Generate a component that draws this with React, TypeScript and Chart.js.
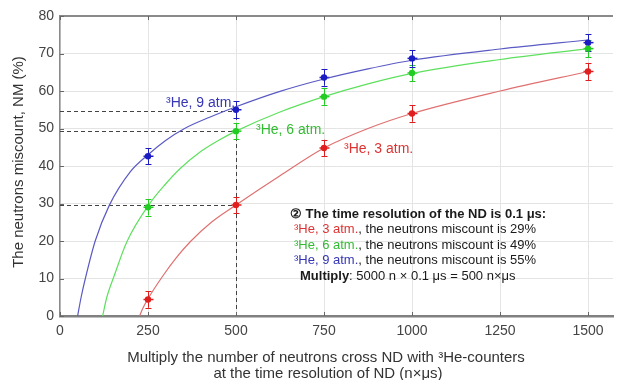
import React, { useEffect, useRef } from 'react';
import { Chart, registerables } from 'chart.js';

Chart.register(...registerables);

// ---- data ----
const xTicks = [0, 250, 500, 750, 1000, 1250, 1500];
const yTicks = [0, 10, 20, 30, 40, 50, 60, 70, 80];

const measX = [250, 500, 750, 1000, 1500];
const he3Meas = [4.4, 29.6, 44.8, 54.0, 65.2];
const he6Meas = [29.0, 49.3, 58.5, 64.8, 71.3];
const he9Meas = [42.6, 55.0, 63.6, 68.7, 72.9];
const he3Err = [2.2, 2.2, 2.2, 2.2, 2.3];
const he6Err = [2.2, 2.2, 2.2, 2.2, 2.3];
const he9Err = [2.1, 2.2, 2.2, 2.2, 2.3];

const he9FitX = [50, 60, 72, 100, 140, 200, 250, 300, 354, 425, 500, 625, 750, 875, 1000, 1250, 1500];
const he9FitY = [0, 5, 10, 20, 29.5, 38.5, 43.0, 46.8, 50.0, 53.0, 55.8, 59.9, 63.2, 65.9, 68.2, 71.2, 73.6];
const he6FitX = [121, 133, 155, 190, 255, 300, 340, 396, 450, 500, 625, 750, 875, 1000, 1250, 1500];
const he6FitY = [0, 5, 11, 19.8, 30, 35.2, 39.2, 43.6, 46.8, 49.3, 54.4, 58.5, 61.9, 64.7, 68.4, 71.3];
const he3FitX = [226, 235, 250, 290, 330, 370, 430, 500, 625, 750, 875, 1000, 1250, 1500];
const he3FitY = [0, 2, 4.6, 10.4, 15.5, 19.8, 25.0, 29.6, 37.4, 44.8, 50.0, 54.0, 60.0, 65.2];

const refLevels = [29.5, 49.3, 54.8];
const refX = 500;

const seriesLabels = ['³He, 3 atm.', '³He, 6 atm.', '³He, 9 atm.'];
const yTitle = 'The neutrons miscount, NM (%)';
const xTitle = ['Multiply the number of neutrons cross ND with ³He-counters', 'at the time resolution of ND (n×μs)'];
const noteTitle = '② The time resolution of the ND is 0.1 μs:';
const noteLines = [
  ['³He, 3 atm.', ', the neutrons miscount is 29%'],
  ['³He, 6 atm.', ', the neutrons miscount is 49%'],
  ['³He, 9 atm.', ', the neutrons miscount is 55%'],
];
const noteMultiply = ['Multiply', ': 5000 n × 0.1 μs = 500 n×μs'];

// ---- styles ----
const FONT = 'Liberation Sans, Arial, sans-serif';
const pointColors = ['#e01e1e', '#22cc22', '#1c1cc4'];
const lineColors = ['#e07070', '#5ee05e', '#5a5ac4'];
const textColors = ['#dd3333', '#33bb33', '#3535b5'];

const zip = (xs: number[], ys: number[]) => xs.map((x, i) => ({ x, y: ys[i] }));

const overlayPlugin = {
  id: 'overlay',
  beforeDatasetsDraw(chart: any) {
    const { ctx, chartArea, scales } = chart;
    const xs = scales.x, ys = scales.y;
    ctx.save();
    ctx.strokeStyle = '#444';
    ctx.lineWidth = 1;
    ctx.setLineDash([4, 3]);
    refLevels.forEach((lv) => {
      const py = Math.round(ys.getPixelForValue(lv)) + 0.5;
      ctx.beginPath();
      ctx.moveTo(chartArea.left, py);
      ctx.lineTo(xs.getPixelForValue(refX), py);
      ctx.stroke();
    });
    const px = Math.round(xs.getPixelForValue(refX)) + 0.5;
    ctx.beginPath();
    ctx.moveTo(px, ys.getPixelForValue(0));
    ctx.lineTo(px, ys.getPixelForValue(Math.max(...refLevels)));
    ctx.stroke();
    ctx.setLineDash([]);
    const groups = [
      [he3Meas, he3Err],
      [he6Meas, he6Err],
      [he9Meas, he9Err],
    ];
    groups.forEach(([vals, errs], gi) => {
      ctx.strokeStyle = pointColors[gi];
      ctx.lineWidth = 1;
      measX.forEach((mx, i) => {
        const cx = Math.round(xs.getPixelForValue(mx)) + 0.5;
        const y1 = ys.getPixelForValue(vals[i] - errs[i]);
        const y2 = ys.getPixelForValue(vals[i] + errs[i]);
        const cy = ys.getPixelForValue(vals[i]);
        ctx.beginPath();
        ctx.moveTo(cx, y1);
        ctx.lineTo(cx, y2);
        ctx.moveTo(cx - 3, Math.round(y1) + 0.5);
        ctx.lineTo(cx + 3, Math.round(y1) + 0.5);
        ctx.moveTo(cx - 3, Math.round(y2) + 0.5);
        ctx.lineTo(cx + 3, Math.round(y2) + 0.5);
        ctx.stroke();
        ctx.lineWidth = 1.5;
        ctx.beginPath();
        ctx.moveTo(cx - 5, cy);
        ctx.lineTo(cx + 5, cy);
        ctx.stroke();
        ctx.lineWidth = 1;
      });
    });
    ctx.restore();
  },
  afterDraw(chart: any) {
    const { ctx, chartArea, scales } = chart;
    const xs = scales.x, ys = scales.y;
    ctx.save();
    ctx.strokeStyle = '#8a8a8a';
    ctx.lineWidth = 2;
    ctx.beginPath();
    ctx.moveTo(chartArea.left - 1, chartArea.top);
    ctx.lineTo(chartArea.right, chartArea.top);
    ctx.stroke();
    ctx.strokeStyle = '#666';
    ctx.lineWidth = 1;
    xTicks.forEach((t) => {
      const px = Math.round(xs.getPixelForValue(t)) + 0.5;
      ctx.beginPath();
      ctx.moveTo(px, chartArea.top);
      ctx.lineTo(px, chartArea.top + 4);
      ctx.moveTo(px, chartArea.bottom);
      ctx.lineTo(px, chartArea.bottom - 4);
      ctx.stroke();
    });
    yTicks.forEach((t) => {
      const py = Math.round(ys.getPixelForValue(t)) + 0.5;
      ctx.beginPath();
      ctx.moveTo(chartArea.left, py);
      ctx.lineTo(chartArea.left + 4, py);
      ctx.stroke();
    });

    ctx.fillStyle = '#333';
    ctx.font = `15px ${FONT}`;
    ctx.textAlign = 'center';
    ctx.textBaseline = 'middle';
    ctx.fillText(xTitle[0], 326, 358);
    ctx.fillText(xTitle[1], 328, 373.5);
    ctx.save();
    ctx.translate(18.5, 162);
    ctx.rotate(-Math.PI / 2);
    ctx.fillText(yTitle, 0, 0);
    ctx.restore();

    ctx.font = `14px ${FONT}`;
    ctx.textBaseline = 'middle';
    ctx.textAlign = 'left';
    const labelPos = [
      [344, 149],
      [256, 130],
      [166, 103],
    ];
    seriesLabels.forEach((s, i) => {
      ctx.fillStyle = textColors[i];
      ctx.fillText(s, labelPos[i][0], labelPos[i][1]);
    });

    ctx.fillStyle = '#1a1a1a';
    ctx.font = `bold 13px ${FONT}`;
    ctx.fillText(noteTitle, 290, 214);
    const lineYs = [229.5, 245, 260.5];
    noteLines.forEach((parts, i) => {
      let x = 294;
      ctx.font = `13px ${FONT}`;
      ctx.fillStyle = textColors[i];
      ctx.fillText(parts[0], x, lineYs[i]);
      x += ctx.measureText(parts[0]).width;
      ctx.fillStyle = '#1a1a1a';
      ctx.fillText(parts[1], x, lineYs[i]);
    });
    ctx.font = `bold 13px ${FONT}`;
    ctx.fillStyle = '#1a1a1a';
    ctx.fillText(noteMultiply[0], 300, 276);
    const mw = ctx.measureText(noteMultiply[0]).width;
    ctx.font = `13px ${FONT}`;
    ctx.fillText(noteMultiply[1], 300 + mw, 276);
    ctx.restore();
  },
};

export default function App() {
  const ref = useRef<HTMLCanvasElement | null>(null);
  useEffect(() => {
    if (!ref.current) return;
    const measSets = [he3Meas, he6Meas, he9Meas];
    const fits = [
      zip(he3FitX, he3FitY),
      zip(he6FitX, he6FitY),
      zip(he9FitX, he9FitY),
    ];
    const datasets: any[] = [];
    measSets.forEach((vals, i) => {
      datasets.push({
        label: seriesLabels[i] + ' data',
        data: zip(measX, vals),
        showLine: false,
        pointRadius: 3.2,
        pointBackgroundColor: pointColors[i],
        pointBorderColor: pointColors[i],
        pointBorderWidth: 0,
      });
    });
    fits.forEach((pts, i) => {
      datasets.push({
        label: seriesLabels[i] + ' fit',
        data: pts,
        showLine: true,
        pointRadius: 0,
        borderColor: lineColors[i],
        borderWidth: 1.2,
        cubicInterpolationMode: 'monotone',
        fill: false,
      });
    });
    const chart = new Chart(ref.current, {
      type: 'scatter',
      data: { datasets },
      options: {
        animation: false,
        responsive: false,
        devicePixelRatio: 1,
        layout: { padding: { top: 16, left: 0, right: 0, bottom: 0 } },
        plugins: { legend: { display: false }, tooltip: { enabled: false } },
        scales: {
          x: {
            type: 'linear',
            min: 0,
            max: 1571,
            afterBuildTicks: (s: any) => {
              s.ticks = xTicks.map((v) => ({ value: v }));
            },
            afterFit: (s: any) => {
              s.height = 64;
            },
            grid: { color: '#e4e4e4', drawTicks: false },
            border: { color: '#808080', width: 2.5 },
            ticks: {
              padding: 7,
              color: '#444',
              font: { family: FONT, size: 14 },
              maxRotation: 0,
              autoSkip: false,
              callback: (v: any) => String(v),
            },
          },
          y: {
            type: 'linear',
            min: 0,
            max: 80,
            afterBuildTicks: (s: any) => {
              s.ticks = yTicks.map((v) => ({ value: v }));
            },
            afterFit: (s: any) => {
              s.width = 60;
            },
            grid: { color: '#e4e4e4', drawTicks: false },
            border: { color: '#8a8a8a', width: 1.5 },
            ticks: {
              padding: 6,
              color: '#444',
              font: { family: FONT, size: 14 },
              autoSkip: false,
              callback: (v: any) => String(v),
            },
          },
        },
      },
      plugins: [overlayPlugin],
    });
    return () => chart.destroy();
  }, []);
  return (
    <div style={{ position: 'fixed', left: 0, top: 0, width: 617, height: 380, background: '#fff' }}>
      <canvas ref={ref} width={617} height={380} style={{ width: 617, height: 380, display: 'block' }} />
    </div>
  );
}
